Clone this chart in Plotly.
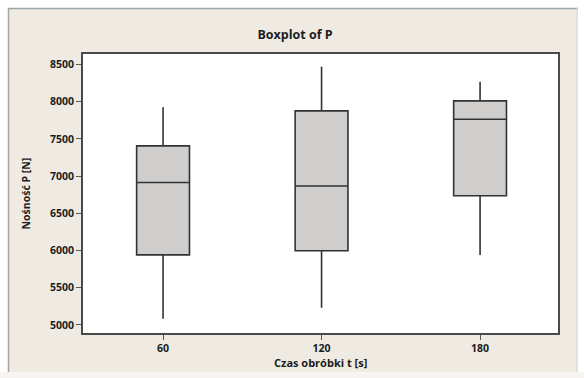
import plotly.graph_objects as go

# Processing time groups [s] and five-number summaries of load capacity P [N]
times = [60, 120, 180]
lower_whisker = [5080, 5230, 5940]
q1 = [5940, 5995, 6735]
median = [6912, 6866, 7762]
q3 = [7405, 7876, 8010]
upper_whisker = [7925, 8470, 8268]

y_ticks = [5000, 5500, 6000, 6500, 7000, 7500, 8000, 8500]
x_ticks = [60, 120, 180]

W, H = 584, 378
L, R, T, B = 83, 26, 54, 45
pw, ph = W - L - R, H - T - B

def px_x(x):
    return (x - L) / pw

def px_y(y):
    return (H - B - y) / ph

beige = "#efebe3"
txt = "#1c1c1c"

fig = go.Figure()
fig.add_trace(go.Box(
    x=times,
    q1=q1, median=median, q3=q3,
    lowerfence=lower_whisker, upperfence=upper_whisker,
    width=20,
    whiskerwidth=0,
    boxpoints=False,
    fillcolor="#d0cecc",
    line=dict(color="#333333", width=1.6),
    showlegend=False,
    hoverinfo="skip",
))

shapes = [
    # white outer margins around the framed panel
    dict(type="rect", xref="paper", yref="paper", x0=px_x(0), x1=px_x(W), y0=px_y(0), y1=px_y(8),
         fillcolor="white", line=dict(width=0), layer="below"),
    dict(type="rect", xref="paper", yref="paper", x0=px_x(0), x1=px_x(8), y0=px_y(0), y1=px_y(H),
         fillcolor="white", line=dict(width=0), layer="below"),
    dict(type="rect", xref="paper", yref="paper", x0=px_x(578), x1=px_x(W), y0=px_y(0), y1=px_y(H),
         fillcolor="white", line=dict(width=0), layer="below"),
    dict(type="rect", xref="paper", yref="paper", x0=px_x(0), x1=px_x(W), y0=px_y(372), y1=px_y(H),
         fillcolor="#f7f5f1", line=dict(width=0), layer="below"),
    # panel frame lines
    dict(type="line", xref="paper", yref="paper", x0=px_x(8), x1=px_x(578), y0=px_y(8.5), y1=px_y(8.5),
         line=dict(color="#97a3ab", width=1.5)),
    dict(type="line", xref="paper", yref="paper", x0=px_x(8.5), x1=px_x(8.5), y0=px_y(8), y1=px_y(372),
         line=dict(color="#a5a5a5", width=1.5)),
    dict(type="line", xref="paper", yref="paper", x0=px_x(577), x1=px_x(577), y0=px_y(8), y1=px_y(372),
         line=dict(color="#dcd8d0", width=1)),
]

annotations = [
    dict(text="<b>Czas obróbki t [s]</b>", xref="paper", yref="paper",
         x=0.5, y=px_y(362), xanchor="center", yanchor="middle", showarrow=False,
         font=dict(family="Open Sans", size=11, color=txt)),
    dict(text="<b>Nośność P [N]</b>", xref="paper", yref="paper",
         x=px_x(25), y=0.5, xanchor="center", yanchor="middle", showarrow=False, textangle=-90,
         font=dict(family="Open Sans", size=10.5, color=txt)),
]

axis_common = dict(
    showline=True, linecolor="#4a4a4a", linewidth=1.6, mirror=True,
    ticks="outside", ticklen=5, tickcolor="#5a5a5a", tickwidth=1,
    showgrid=False, zeroline=False,
    tickfont=dict(family="Open Sans", size=10.5, color=txt, weight="bold"),
)

fig.update_layout(
    width=W, height=H,
    margin=dict(l=L, r=R, t=T, b=B),
    paper_bgcolor=beige,
    plot_bgcolor="white",
    title=dict(text="<b>Boxplot of P</b>", xref="container", yref="container",
               x=295 / W, y=1 - 35 / H, xanchor="center", yanchor="middle",
               font=dict(family="Open Sans", size=12.5, color=txt)),
    xaxis=dict(range=[29.7, 209.5], tickvals=x_ticks, ticktext=[str(v) for v in x_ticks], **axis_common),
    yaxis=dict(range=[4890, 8640], tickvals=y_ticks, ticktext=[str(v) for v in y_ticks], **axis_common),
    shapes=shapes,
    annotations=annotations,
)

fig.write_html("out.html")
